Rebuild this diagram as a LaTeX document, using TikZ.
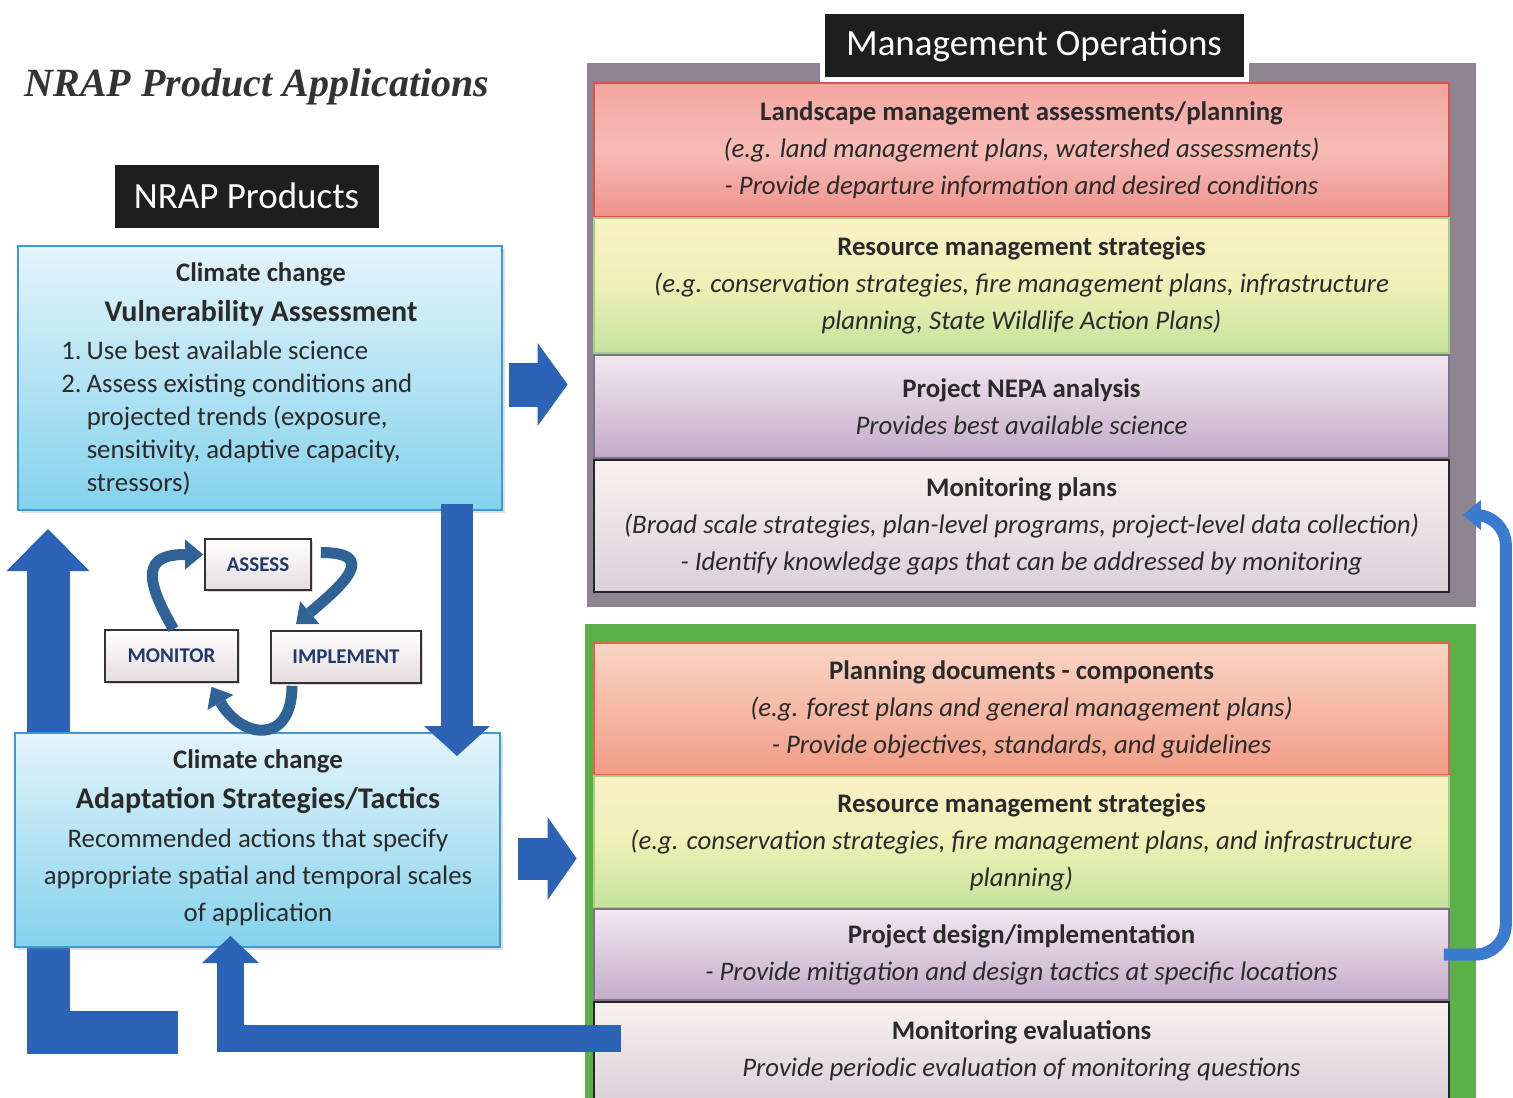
\documentclass[tikz,border=0pt]{standalone}
\usepackage{fontspec}
\setmainfont{Carlito}
\newfontfamily\titlefont{Liberation Serif}
\usetikzlibrary{arrows.meta,calc,shadows}

\definecolor{textgray}{HTML}{2A2A2A}
\definecolor{titlegray}{HTML}{333333}
\definecolor{bluetop}{HTML}{E4F4FB}
\definecolor{bluebottom}{HTML}{84D2EC}
\definecolor{boxblue}{HTML}{3D9AD6}
\definecolor{arrowblue}{HTML}{2C63B6}
\definecolor{tubeblue}{HTML}{3A7BD0}
\definecolor{cycleblue}{HTML}{2F6396}
\definecolor{cyclenavy}{HTML}{1F3A6B}
\definecolor{cyclegray}{HTML}{E6DCE0}
\definecolor{headblack}{HTML}{1E1E1E}
\definecolor{panelgray}{HTML}{8D8691}
\definecolor{panelgreen}{HTML}{5BB148}
\definecolor{landtop}{HTML}{F4A5A1}
\definecolor{landmid}{HTML}{F7BCB6}
\definecolor{landbot}{HTML}{EF918C}
\definecolor{landline}{HTML}{DF4F4B}
\definecolor{restop}{HTML}{FBF1C6}
\definecolor{resmid}{HTML}{EEF0B6}
\definecolor{resbot}{HTML}{C5E39C}
\definecolor{resline}{HTML}{A9CE86}
\definecolor{nepatop}{HTML}{F2E8F0}
\definecolor{nepabot}{HTML}{C4ABC9}
\definecolor{nepaline}{HTML}{7E7088}
\definecolor{montop}{HTML}{F8F1F0}
\definecolor{monbot}{HTML}{DBD1D9}
\definecolor{plantop}{HTML}{FAD5C6}
\definecolor{planmid}{HTML}{F6B9A6}
\definecolor{planbot}{HTML}{F09C85}
\definecolor{planline}{HTML}{E0654C}

\begin{document}
\begin{tikzpicture}[x=0.5pt, y=0.5pt,
    body/.style={text=textgray, align=center, inner sep=0pt, font=\fontsize{13.4}{18.5}\selectfont},
    subhead/.style={text=textgray, inner sep=0pt, font=\bfseries\fontsize{13.4}{16}\selectfont},
    mainhead/.style={text=textgray, inner sep=0pt, font=\bfseries\fontsize{15}{18}\selectfont},
    bluebox/.style={draw=boxblue, line width=1pt, top color=bluetop, bottom color=bluebottom,
        drop shadow={opacity=0.25, shadow xshift=1.5pt, shadow yshift=-1.5pt}},
    headbox/.style={fill=headblack, draw=white, line width=2.5pt, text=white, minimum height=34pt,
        font=\fontsize{18.5}{22}\selectfont,
        drop shadow={opacity=0.3, shadow xshift=1pt, shadow yshift=-1.5pt}},
    cyclebox/.style={draw=black!80, line width=0.8pt, top color=white, bottom color=cyclegray,
        text=cyclenavy, minimum height=26pt, font=\bfseries\fontsize{10.5}{12}\selectfont,
        drop shadow={opacity=0.3, shadow xshift=1pt, shadow yshift=-1pt}},
    panel/.style={inner sep=0pt},
    opsbox/.style={body, draw=#1, line width=0.8pt, minimum width=427.5pt},
    blockarrow/.style={draw=arrowblue, line join=miter},
    cyclearrow/.style={draw=cycleblue, line width=5.5pt, looseness=1.9,
        -{Triangle[width=15pt,length=9pt,line width=0pt]}},
    tubearrow/.style={draw=tubeblue, line width=6pt, rounded corners=15pt,
        -{Triangle[width=15pt,length=9pt,line width=0pt]}}
]
    % Page
    \fill[white] (0,0) rectangle (1513,-1097);
    \useasboundingbox (0,0) rectangle (1513,-1097);

    % Title
    \node[text=titlegray, font=\titlefont\bfseries\itshape\fontsize{20}{24}\selectfont] (title) at (257,-87) {NRAP Product Applications};

    % Left column boxes, loop arrow runs behind the adaptation box
    \coordinate (lfoot) at (178,-1032.5);
    \node[bluebox, minimum width=242pt, minimum height=132pt] (vuln) at (260,-378) {};
    \draw[blockarrow, line width=21.5pt, -{Triangle[width=41.5pt,length=21pt,line width=0pt]}]
        (lfoot) -| ($(vuln.south west)+(31,-18)$);
    \node[bluebox, minimum width=242.5pt, minimum height=107pt] (adapt) at (257.5,-840) {};

    \node[subhead] (vulntop) at (261,-274) {Climate change};
    \node[mainhead] (vulnhead) at (261,-313) {Vulnerability Assessment};
    \node[body, anchor=west, align=left, font=\fontsize{13.4}{16.5}\selectfont] (vulnlist) at (61,-419) {%
        \begin{tabular}{@{}l@{\hspace{2.5pt}}l@{}}
        1. & Use best available science\\
        2. & Assess existing conditions and\\
           & projected trends (exposure,\\
           & sensitivity, adaptive capacity,\\
           & stressors)
        \end{tabular}};

    \node[subhead] (adapttop) at (258,-761) {Climate change};
    \node[mainhead] (adapthead) at (258,-800) {Adaptation Strategies/Tactics};
    \node[body] (adapttext) at (258,-877) {Recommended actions that specify\\appropriate spatial and temporal scales\\of application};

    \node[headbox, minimum width=134.5pt] (prodhead) at (246.5,-196) {NRAP Products};

    % Assess - implement - monitor cycle
    \node[cyclebox, minimum width=53pt, minimum height=25.5pt] (assess) at (258,-564.5) {ASSESS};
    \node[cyclebox, minimum width=66.5pt] (monitor) at (171.5,-656) {MONITOR};
    \node[cyclebox, minimum width=75pt] (implement) at (346,-657) {IMPLEMENT};

    \draw[cyclearrow] ($(monitor.north)+(2,0)$) to[out=120,in=180] ($(assess.west)+(-1,10)$);
    \draw[cyclearrow, looseness=2] ($(assess.east)+(9,12)$) to[out=0,in=40] ($(implement.north)+(-50,6)$);
    \draw[cyclearrow] ($(implement.south)+(-54,-2)$) to[out=-90,in=-60] ($(monitor.south)+(40,-4)$);

    \draw[blockarrow, line width=16pt, -{Triangle[width=33pt,length=15pt,line width=0pt]}]
        ($(vuln.south east)+(-46,7)$) -- ($(adapt.north east)+(-44,-24)$);

    % Management operations
    \node[panel, fill=panelgray, minimum width=444.5pt, minimum height=272pt] (mgmt) at (1031.5,-335) {};
    \node[opsbox=landline, top color=landtop, bottom color=landbot, middle color=landmid, minimum height=67pt] (land) at (1021.5,-150)
        {\textbf{Landscape management assessments/planning}\\\textit{(e.g. land management plans, watershed assessments)}\\\textit{- Provide departure information and desired conditions}};
    \node[opsbox=resline, top color=restop, bottom color=resbot, middle color=resmid, minimum height=67.5pt] (res) at (1021.5,-285.5)
        {\textbf{Resource management strategies}\\\textit{(e.g. conservation strategies, fire management plans, infrastructure}\\\textit{planning, State Wildlife Action Plans)}};
    \node[opsbox=nepaline, top color=nepatop, bottom color=nepabot, minimum height=51.5pt] (nepa) at (1021.5,-406.5)
        {\textbf{Project NEPA analysis}\\\textit{Provides best available science}};
    \node[opsbox=black!85, top color=montop, bottom color=monbot, minimum height=66pt] (monplan) at (1021.5,-526)
        {\textbf{Monitoring plans}\\\textit{(Broad scale strategies, plan-level programs, project-level data collection)}\\\textit{- Identify knowledge gaps that can be addressed by monitoring}};
    \node[headbox, minimum width=212pt] (mgmthead) at (1034,-46) {Management Operations};

    % Planning and projects
    \node[panel, fill=panelgreen, minimum width=445.5pt, minimum height=243pt] (ops) at (1030.5,-867) {};
    \node[opsbox=planline, top color=plantop, bottom color=planbot, middle color=planmid, minimum height=66pt] (plan) at (1021.5,-709)
        {\textbf{Planning documents - components}\\\textit{(e.g. forest plans and general management plans)}\\\textit{- Provide objectives, standards, and guidelines}};
    \node[opsbox=resline, top color=restop, bottom color=resbot, middle color=resmid, minimum height=66pt] (res2) at (1021.5,-842)
        {\textbf{Resource management strategies}\\\textit{(e.g. conservation strategies, fire management plans, and infrastructure}\\\textit{planning)}};
    \node[opsbox=nepaline, top color=nepatop, bottom color=nepabot, minimum height=45.5pt] (design) at (1021.5,-954.5)
        {\textbf{Project design/implementation}\\\textit{- Provide mitigation and design tactics at specific locations}};
    \node[opsbox=black!85, top color=montop, bottom color=monbot, minimum height=49pt] (moneval) at (1021.5,-1051)
        {\textbf{Monitoring evaluations}\\\textit{Provide periodic evaluation of monitoring questions}};

    % Links between the columns
    \draw[blockarrow, line width=22pt, -{Triangle[width=41.5pt,length=15pt,line width=0pt]}]
        ($(vuln.east)+(6,-6.5)$) -- ($(mgmt.west |- vuln.east)+(-19,-6.5)$);
    \draw[blockarrow, line width=21pt, -{Triangle[width=41.5pt,length=14.5pt,line width=0pt]}]
        ($(adapt.east)+(17,-18.5)$) -- ($(ops.west |- adapt.east)+(-8,-18.5)$);
    \draw[blockarrow, line width=13.5pt, -{Triangle[width=28.5pt,length=13.5pt,line width=0pt]}]
        ($(moneval.west)+(28,12.5)$) -| ($(adapt.south west)+(216.5,12)$);
    \draw[tubearrow] ($(design.east)+(-6,0)$) -| ($(monplan.east)+(56,11)$) -- ($(monplan.east)+(13,11)$);
\end{tikzpicture}
\end{document}
